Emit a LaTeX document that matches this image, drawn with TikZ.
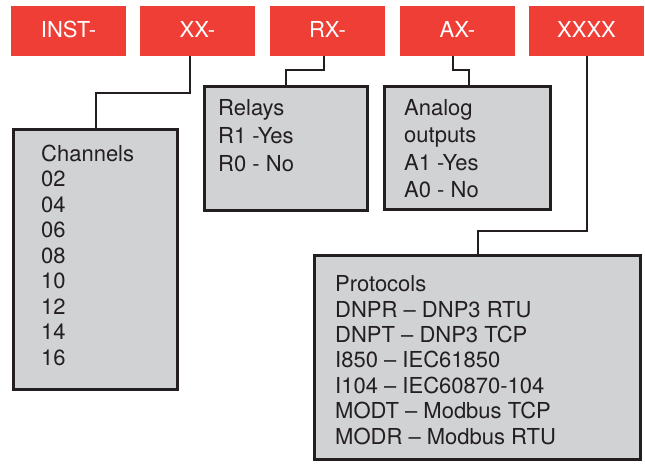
\documentclass[tikz,border=0pt]{standalone}
\usepackage{fontspec}
\setmainfont{TeX Gyre Heros}
\definecolor{codered}{HTML}{EF3E36}
\definecolor{panelgray}{HTML}{D1D2D4}
\definecolor{inkdark}{HTML}{231F20}
\begin{document}
\begin{tikzpicture}[x=1pt,y=-1pt,
  codebox/.style={fill=codered,text=white,minimum width=115pt,minimum height=49.5pt,
    inner sep=0pt,outer sep=0pt,text height=13.4pt,text depth=0pt,
    font=\fontsize{22}{26}\selectfont},
  infobox/.style={draw=inkdark,fill=panelgray,line width=3pt,inner sep=0pt,outer sep=0pt,
    anchor=north west},
  infotext/.style={anchor=base west,inner sep=0pt,text=inkdark,
    font=\fontsize{22}{25}\selectfont},
  conn/.style={draw=inkdark,line width=2.5pt}]
\useasboundingbox (0,0) rectangle (645,464);
% code boxes
\node[codebox] (inst) at (68.5,30.75) {INST-};
\node[codebox] (xx) at (197.5,30.75) {XX-};
\node[codebox] (rx) at (327.5,30.75) {RX-};
\node[codebox] (ax) at (457.5,30.75) {AX-};
\node[codebox] (xxxx) at (586.5,30.75) {XXXX};
% info boxes
\node[infobox,minimum width=164pt,minimum height=260pt] (chan) at (13.5,129.5) {};
\node[infobox,minimum width=163pt,minimum height=124pt] (relay) at (204.5,86.5) {};
\node[infobox,minimum width=166pt,minimum height=123pt] (analog) at (384.5,86.5) {};
\node[infobox,minimum width=326pt,minimum height=204pt] (proto) at (314.5,255.5) {};
% connector joints
\coordinate (xxj) at (190,93);
\coordinate (chj) at (96,93);
\coordinate (rxj) at (324,70);
\coordinate (rlj) at (286,70);
\coordinate (axj) at (453,70);
\coordinate (anj) at (469,70);
\coordinate (xxxxj) at (587,231);
\coordinate (prj) at (478,231);
\draw[conn] (xx.south -| xxj) |- (chj) -- (chj |- chan.north);
\draw[conn] (rx.south -| rxj) |- (rlj) -- (rlj |- relay.north);
\draw[conn] (ax.south -| axj) |- (anj) -- (anj |- analog.north);
\draw[conn] (xxxx.south -| xxxxj) |- (prj) -- (prj |- proto.north);
% texts
\node[infotext] (ch0) at (41,161) {Channels};
\foreach \t [count=\i] in {02,04,06,08,10,12,14,16}
  \node[infotext] (ch\i) at (41,{161+25.5*\i}) {\t};
\node[infotext] (rl0) at (218,115) {Relays};
\node[infotext] (rl1) at (218,143) {R1 -Yes};
\node[infotext] (rl2) at (218,171) {R0 - No};
\node[infotext] (an0) at (404,115) {Analog};
\node[infotext] (an1) at (404,142.5) {outputs};
\node[infotext] (an2) at (404,170) {A1 -Yes};
\node[infotext] (an3) at (404,197.5) {A0 - No};
\node[infotext] (pr0) at (335,291.7) {Protocols};
\node[infotext] (pr1) at (335,317.1) {DNPR – DNP3 RTU};
\node[infotext] (pr2) at (335,342.5) {DNPT – DNP3 TCP};
\node[infotext] (pr3) at (335,367.9) {I850 – IEC61850};
\node[infotext] (pr4) at (335,393.3) {I104 – IEC60870-104};
\node[infotext] (pr5) at (335,418.7) {MODT – Modbus TCP};
\node[infotext] (pr6) at (335,444.1) {MODR – Modbus RTU};
\end{tikzpicture}
\end{document}
